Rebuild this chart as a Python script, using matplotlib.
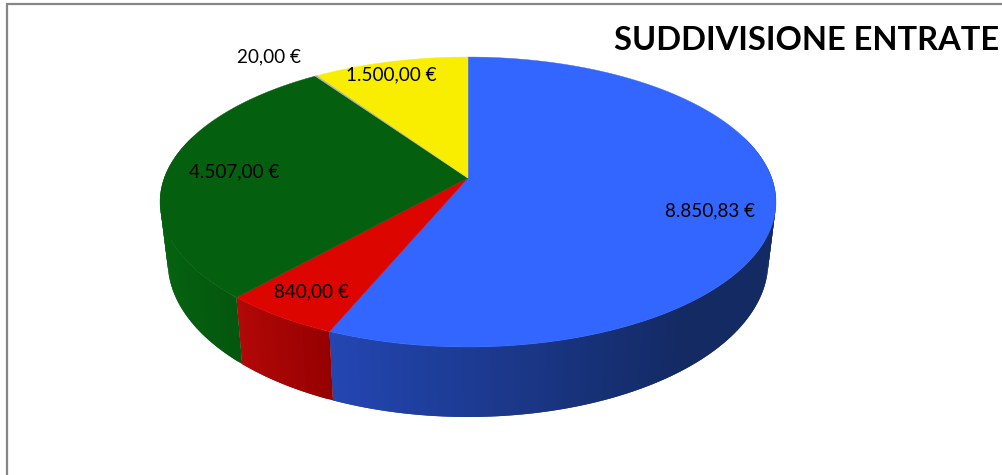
import numpy as np
import matplotlib
matplotlib.use("Agg")
import matplotlib.pyplot as plt
from matplotlib.colors import to_rgb
from matplotlib.patches import Polygon

# data
categories = ["A", "B", "C", "D", "E"]
values = [8850.83, 840.00, 4507.00, 20.00, 1500.00]
value_labels = ["8.850,83 €", "840,00 €", "4.507,00 €", "20,00 €", "1.500,00 €"]
title = "SUDDIVISIONE ENTRATE"

# styles
top_colors = ["#3366FF", "#DD0500", "#04600F", "#A9B0B8", "#F9EE00"]
wall_left = ["#2346B2", "#B20808", "#056210", "#808080", "#B0A800"]
wall_right = ["#132A63", "#960000", "#04570E", "#808080", "#B0A800"]
label_xy = [(710, 211), (311, 292), (234, 172), (269, 57), (391, 75)]

# projection of the disc
CX, CY, R, H, K = 468.0, 178.0, 303.7, 141.0, 0.1656
X_SHRINK, Y_STRETCH, Y_SHIFT = 0.975, 1.07, 45.7


def rim(theta):
    w = 1 + K * np.cos(theta)
    return CX + R * np.sin(theta) / w, CY - H * np.cos(theta) / w


def lower(theta):
    x, y = rim(theta)
    return CX + (x - CX) * X_SHRINK, y * Y_STRETCH + Y_SHIFT


fig = plt.figure(figsize=(10.03, 4.75), dpi=100, facecolor="white")
ax = fig.add_axes([0, 0, 1, 1])
ax.set_xlim(0, 1003)
ax.set_ylim(475, 0)
ax.axis("off")

# chart frame, open past the right and bottom edges
ax.plot([7, 7], [480, 3.5], color="#868686", lw=1.6, solid_capstyle="butt")
ax.plot([6.2, 1010], [3.5, 3.5], color="#868686", lw=1.6, solid_capstyle="butt")

edges = np.concatenate([[0], np.cumsum(values)]) / np.sum(values) * 2 * np.pi

# walls
wall_x0, wall_x1 = {0: 333, 1: 241, 2: 168}, {0: 680, 1: 333, 2: 241}
for i in range(3):
    a0, a1 = edges[i], edges[i + 1]
    step = np.radians(1.0)
    n = max(2, int((a1 - a0) / step))
    ts = np.linspace(a0, a1, n + 1)
    for j, (t0, t1) in enumerate(zip(ts[:-1], ts[1:])):
        if np.cos((t0 + t1) / 2) > 0.3 and i != 2:
            continue
        if np.cos((t0 + t1) / 2) > 0.3 and i == 2:
            continue
        # each strip runs on under the next one so no seams show
        t_end = ts[min(j + 2, n)]
        tt = np.linspace(t0, t_end, 3)
        xa, ya = rim(tt)
        xb, yb = lower(tt)
        x0, x1 = wall_x0[i], wall_x1[i]
        f = np.clip((lower(np.array([t0, t1]))[0].mean() - x0) / (x1 - x0), 0, 1)
        col = (1 - f) * np.array(to_rgb(wall_left[i])) + f * np.array(to_rgb(wall_right[i]))
        ax.add_patch(Polygon(np.column_stack([np.r_[xa, xb[::-1]], np.r_[ya, yb[::-1]]]),
                             closed=True, facecolor=col, edgecolor="none", lw=0, zorder=2))

# top face
for i in range(len(values)):
    ts = np.linspace(edges[i], edges[i + 1], max(3, int((edges[i + 1] - edges[i]) / np.radians(0.5))))
    xs, ys = rim(ts)
    pts = np.column_stack([np.r_[CX, xs], np.r_[CY, ys]])
    lw = 0.3 if i != 3 else 0.6
    ax.add_patch(Polygon(pts, closed=True, facecolor=top_colors[i], edgecolor=top_colors[i], lw=lw, zorder=3))

for lab, (x, y) in zip(value_labels, label_xy):
    ax.text(x, y, lab, ha="center", va="center", fontsize=13.6, family="Lato", color="black", zorder=5)

ax.text(807, 40, title, ha="center", va="center", fontsize=23.5, family="Lato",
        fontweight="bold", color="black", zorder=5)

fig.savefig("out.png", dpi=100, facecolor="white")
